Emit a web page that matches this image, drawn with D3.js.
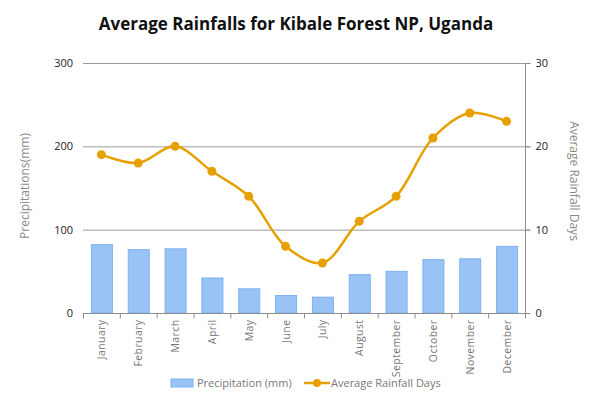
<!DOCTYPE html>
<html>
<head>
<meta charset="utf-8">
<script src="https://cdn.jsdelivr.net/npm/d3@7"></script>
<style>
  body { margin: 0; background: #fff; }
  svg text { font-family: "Open Sans", "DejaVu Sans", sans-serif; }
</style>
</head>
<body>
<div id="viz"></div>
<script>
const months = ['January','February','March','April','May','June','July','August','September','October','November','December'];
const precipitation = [82, 76, 77, 42, 29, 21, 19, 46, 50, 64, 65, 80];
const rainDays = [19, 18, 20, 17, 14, 8, 6, 11, 14, 21, 24, 23];
const leftTicks = [0, 100, 200, 300];
const rightTicks = [0, 10, 20, 30];

const W = 600, H = 399;
const M = { top: 63, right: 75, bottom: 86, left: 83 };
const iw = W - M.left - M.right;
const ih = H - M.top - M.bottom;

const svg = d3.select('#viz').append('svg')
  .attr('width', W).attr('height', H);

svg.append('text')
  .attr('x', 296).attr('y', 30)
  .attr('text-anchor', 'middle')
  .attr('font-size', '17px').attr('font-weight', 'bold')
  .attr('fill', '#111')
  .text('Average Rainfalls for Kibale Forest NP, Uganda');

const g = svg.append('g').attr('transform', `translate(${M.left},${M.top})`);

const x = d3.scaleBand().domain(months).range([0, iw]).paddingInner(0.43).paddingOuter(0.215);
const xb = d3.scaleBand().domain(months).range([0, iw]);
const yL = d3.scaleLinear().domain([0, 300]).range([ih, 0]);
const yR = d3.scaleLinear().domain([0, 30]).range([ih, 0]);

// gridlines
g.selectAll('.grid').data(leftTicks.slice(1)).join('line')
  .attr('x1', 0).attr('x2', iw + 5)
  .attr('y1', d => yL(d) + 0.5).attr('y2', d => yL(d) + 0.5)
  .attr('stroke', '#9a9a9a').attr('stroke-width', 1);

// bars
g.selectAll('.bar').data(months).join('rect')
  .attr('x', d => x(d) + 0.5)
  .attr('y', (d, i) => yL(precipitation[i]))
  .attr('width', x.bandwidth())
  .attr('height', (d, i) => ih - yL(precipitation[i]))
  .attr('fill', '#99c3f4')
  .attr('stroke', '#7fb1ef').attr('stroke-width', 1);

// bottom axis
const bottom = g.append('g').attr('transform', `translate(0,${ih + 0.5})`);
bottom.append('line').attr('x1', 0).attr('x2', iw + 5).attr('stroke', '#8c8c8c');
bottom.selectAll('.tick').data(d3.range(13)).join('line')
  .attr('x1', i => i * xb.step() + 0.5).attr('x2', i => i * xb.step() + 0.5)
  .attr('y1', 0).attr('y2', 5).attr('stroke', '#8c8c8c');
bottom.selectAll('.lbl').data(months).join('text')
  .attr('transform', d => `translate(${xb(d) + xb.bandwidth() / 2 + 4},6) rotate(-90)`)
  .attr('text-anchor', 'end')
  .attr('font-size', '10.5px').attr('fill', '#777')
  .attr('letter-spacing', '0.4px')
  .text(d => d);

// right axis
const right = g.append('g').attr('transform', `translate(${iw + 0.5},0)`);
right.append('line').attr('y1', 0).attr('y2', ih).attr('stroke', '#8c8c8c');
right.selectAll('.tk').data(rightTicks).join('line')
  .attr('x1', 0).attr('x2', 5)
  .attr('y1', d => yR(d) + 0.5).attr('y2', d => yR(d) + 0.5)
  .attr('stroke', '#8c8c8c');
right.selectAll('.lbl').data(rightTicks).join('text')
  .attr('x', 10).attr('y', d => yR(d)).attr('dy', '0.35em')
  .attr('font-size', '11px').attr('fill', '#222')
  .text(d => d);

// left labels
g.selectAll('.ll').data(leftTicks).join('text')
  .attr('x', -10).attr('y', d => yL(d)).attr('dy', '0.35em')
  .attr('text-anchor', 'end')
  .attr('font-size', '11px').attr('fill', '#222')
  .text(d => d);

// axis titles
svg.append('text')
  .attr('transform', 'translate(29,186) rotate(-90)')
  .attr('text-anchor', 'middle')
  .attr('font-size', '12px').attr('fill', '#8a8a8a')
  .text('Precipitations(mm)');
svg.append('text')
  .attr('transform', 'translate(570,181) rotate(90)')
  .attr('text-anchor', 'middle')
  .attr('font-size', '12px').attr('fill', '#8a8a8a')
  .text('Average Rainfall Days');

// line
const lineColor = '#e6a100';
const line = d3.line()
  .x((d, i) => xb(months[i]) + xb.bandwidth() / 2)
  .y(d => yR(d))
  .curve(d3.curveCatmullRom.alpha(0.5));
g.append('path').datum(rainDays)
  .attr('fill', 'none').attr('stroke', lineColor).attr('stroke-width', 2.5)
  .attr('d', line);
g.selectAll('.pt').data(rainDays).join('circle')
  .attr('cx', (d, i) => xb(months[i]) + xb.bandwidth() / 2)
  .attr('cy', d => yR(d))
  .attr('r', 4.5).attr('fill', lineColor);

// legend
const lg = svg.append('g').attr('transform', 'translate(171,379)');
lg.append('rect').attr('width', 22).attr('height', 8)
  .attr('fill', '#99c3f4').attr('stroke', '#7fb1ef');
lg.append('text').attr('x', 26).attr('y', 8)
  .attr('font-size', '11px').attr('fill', '#777').text('Precipitation (mm)');
lg.append('line').attr('x1', 133).attr('x2', 159).attr('y1', 4).attr('y2', 4)
  .attr('stroke', lineColor).attr('stroke-width', 2.5);
lg.append('circle').attr('cx', 146).attr('cy', 4).attr('r', 4).attr('fill', lineColor);
lg.append('text').attr('x', 160).attr('y', 8)
  .attr('font-size', '11px').attr('fill', '#777').text('Average Rainfall Days');
</script>
</body>
</html>
